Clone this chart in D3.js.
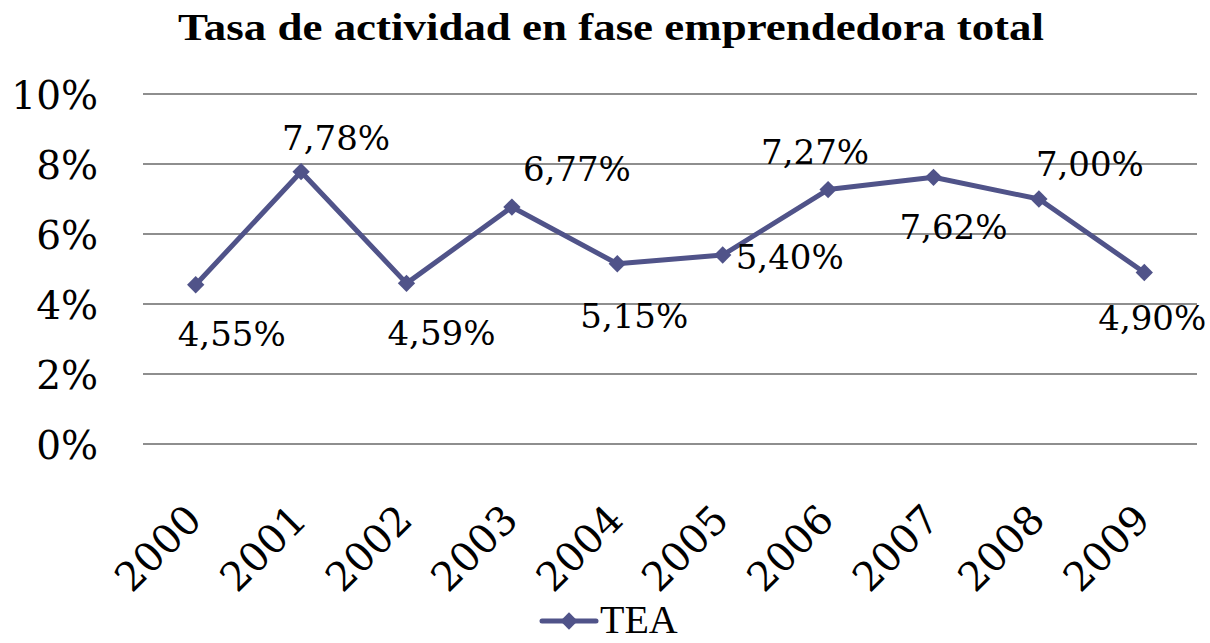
<!DOCTYPE html>
<html>
<head>
<meta charset="utf-8">
<script src="https://cdn.jsdelivr.net/npm/d3@7"></script>
<style>
  html, body { margin: 0; padding: 0; background: #fff; }
  svg { display: block; }
</style>
</head>
<body>
<div id="chart"></div>
<script>
// ---- data ----
const title = "Tasa de actividad en fase emprendedora total";
const seriesName = "TEA";
const years = ["2000","2001","2002","2003","2004","2005","2006","2007","2008","2009"];
const teaValues = [4.55, 7.78, 4.59, 6.77, 5.15, 5.40, 7.27, 7.62, 7.00, 4.90];
const yTicks = [0, 2, 4, 6, 8, 10];

// ---- layout ----
const W = 1210, H = 643;
const plot = { left: 143, right: 1197, top: 94, bottom: 444 };
const color = "#505389";
// label offsets (dx, dy of baseline center relative to point)
const labelOffsets = [
  [36, 61], [35, -22], [35, 62], [65, -26], [17, 64],
  [67, 14], [-13, -26], [20, 62], [51, -23], [8, 57]
];

const svg = d3.select("#chart").append("svg")
  .attr("width", W).attr("height", H);

const x = d3.scaleBand().domain(years).range([plot.left, plot.right]);
const cx = d => x(d) + x.bandwidth() / 2;
const y = d3.scaleLinear().domain([0, 10]).range([plot.bottom, plot.top]);

// title
svg.append("text")
  .attr("x", 611).attr("y", 40)
  .attr("text-anchor", "middle")
  .attr("font-family", "Liberation Serif, serif")
  .attr("font-weight", "bold")
  .attr("font-size", 37)
  .attr("textLength", 866)
  .attr("lengthAdjust", "spacingAndGlyphs")
  .text(title);

// gridlines
svg.append("g").selectAll("line").data(yTicks).join("line")
  .attr("x1", plot.left).attr("x2", plot.right)
  .attr("y1", d => y(d)).attr("y2", d => y(d))
  .attr("stroke", "#8e8e8e").attr("stroke-width", 2);

// y axis
const yAxis = d3.axisLeft(y).tickValues(yTicks).tickSize(0).tickPadding(0)
  .tickFormat(d => d + "%");
const gy = svg.append("g").attr("transform", `translate(98,0)`).call(yAxis);
gy.select(".domain").remove();
gy.selectAll("text")
  .attr("font-family", "DejaVu Serif, serif")
  .attr("font-size", 39)
  .attr("fill", "#000")
  .attr("dy", "0.36em");

// x axis
const xAxis = d3.axisBottom(x).tickSize(0).tickPadding(0);
const gx = svg.append("g").attr("transform", `translate(0,${plot.bottom})`).call(xAxis);
gx.select(".domain").remove();
gx.selectAll("text")
  .attr("font-family", "DejaVu Serif, serif")
  .attr("font-size", 40)
  .attr("fill", "#000")
  .attr("text-anchor", "end")
  .attr("dy", 0)
  .attr("y", 0)
  .attr("transform", "translate(8,78) rotate(-45)");

// line
const line = d3.line().x((d, i) => cx(years[i])).y(d => y(d));
svg.append("path").datum(teaValues)
  .attr("d", line)
  .attr("fill", "none")
  .attr("stroke", color)
  .attr("stroke-width", 5)
  .attr("stroke-linejoin", "round");

// markers
svg.append("g").selectAll("path").data(teaValues).join("path")
  .attr("transform", (d, i) => `translate(${cx(years[i])},${y(d)}) rotate(45)`)
  .attr("d", d3.symbol().type(d3.symbolSquare).size(150))
  .attr("fill", color);

// data labels
const fmt = v => v.toFixed(2).replace(".", ",") + "%";
svg.append("g").selectAll("text").data(teaValues).join("text")
  .attr("x", (d, i) => cx(years[i]) + labelOffsets[i][0])
  .attr("y", (d, i) => y(d) + labelOffsets[i][1])
  .attr("text-anchor", "middle")
  .attr("font-family", "DejaVu Serif, serif")
  .attr("font-size", 34)
  .attr("fill", "#000")
  .text(fmt);

// legend
const lg = svg.append("g");
lg.append("line")
  .attr("x1", 542).attr("x2", 596).attr("y1", 621).attr("y2", 621)
  .attr("stroke", color).attr("stroke-width", 5).attr("stroke-linecap", "round");
lg.append("path")
  .attr("transform", "translate(569,621) rotate(45)")
  .attr("d", d3.symbol().type(d3.symbolSquare).size(150))
  .attr("fill", color);
lg.append("text")
  .attr("x", 600).attr("y", 633)
  .attr("font-family", "Liberation Serif, serif")
  .attr("font-size", 40)
  .attr("fill", "#000")
  .text(seriesName);
</script>
</body>
</html>
